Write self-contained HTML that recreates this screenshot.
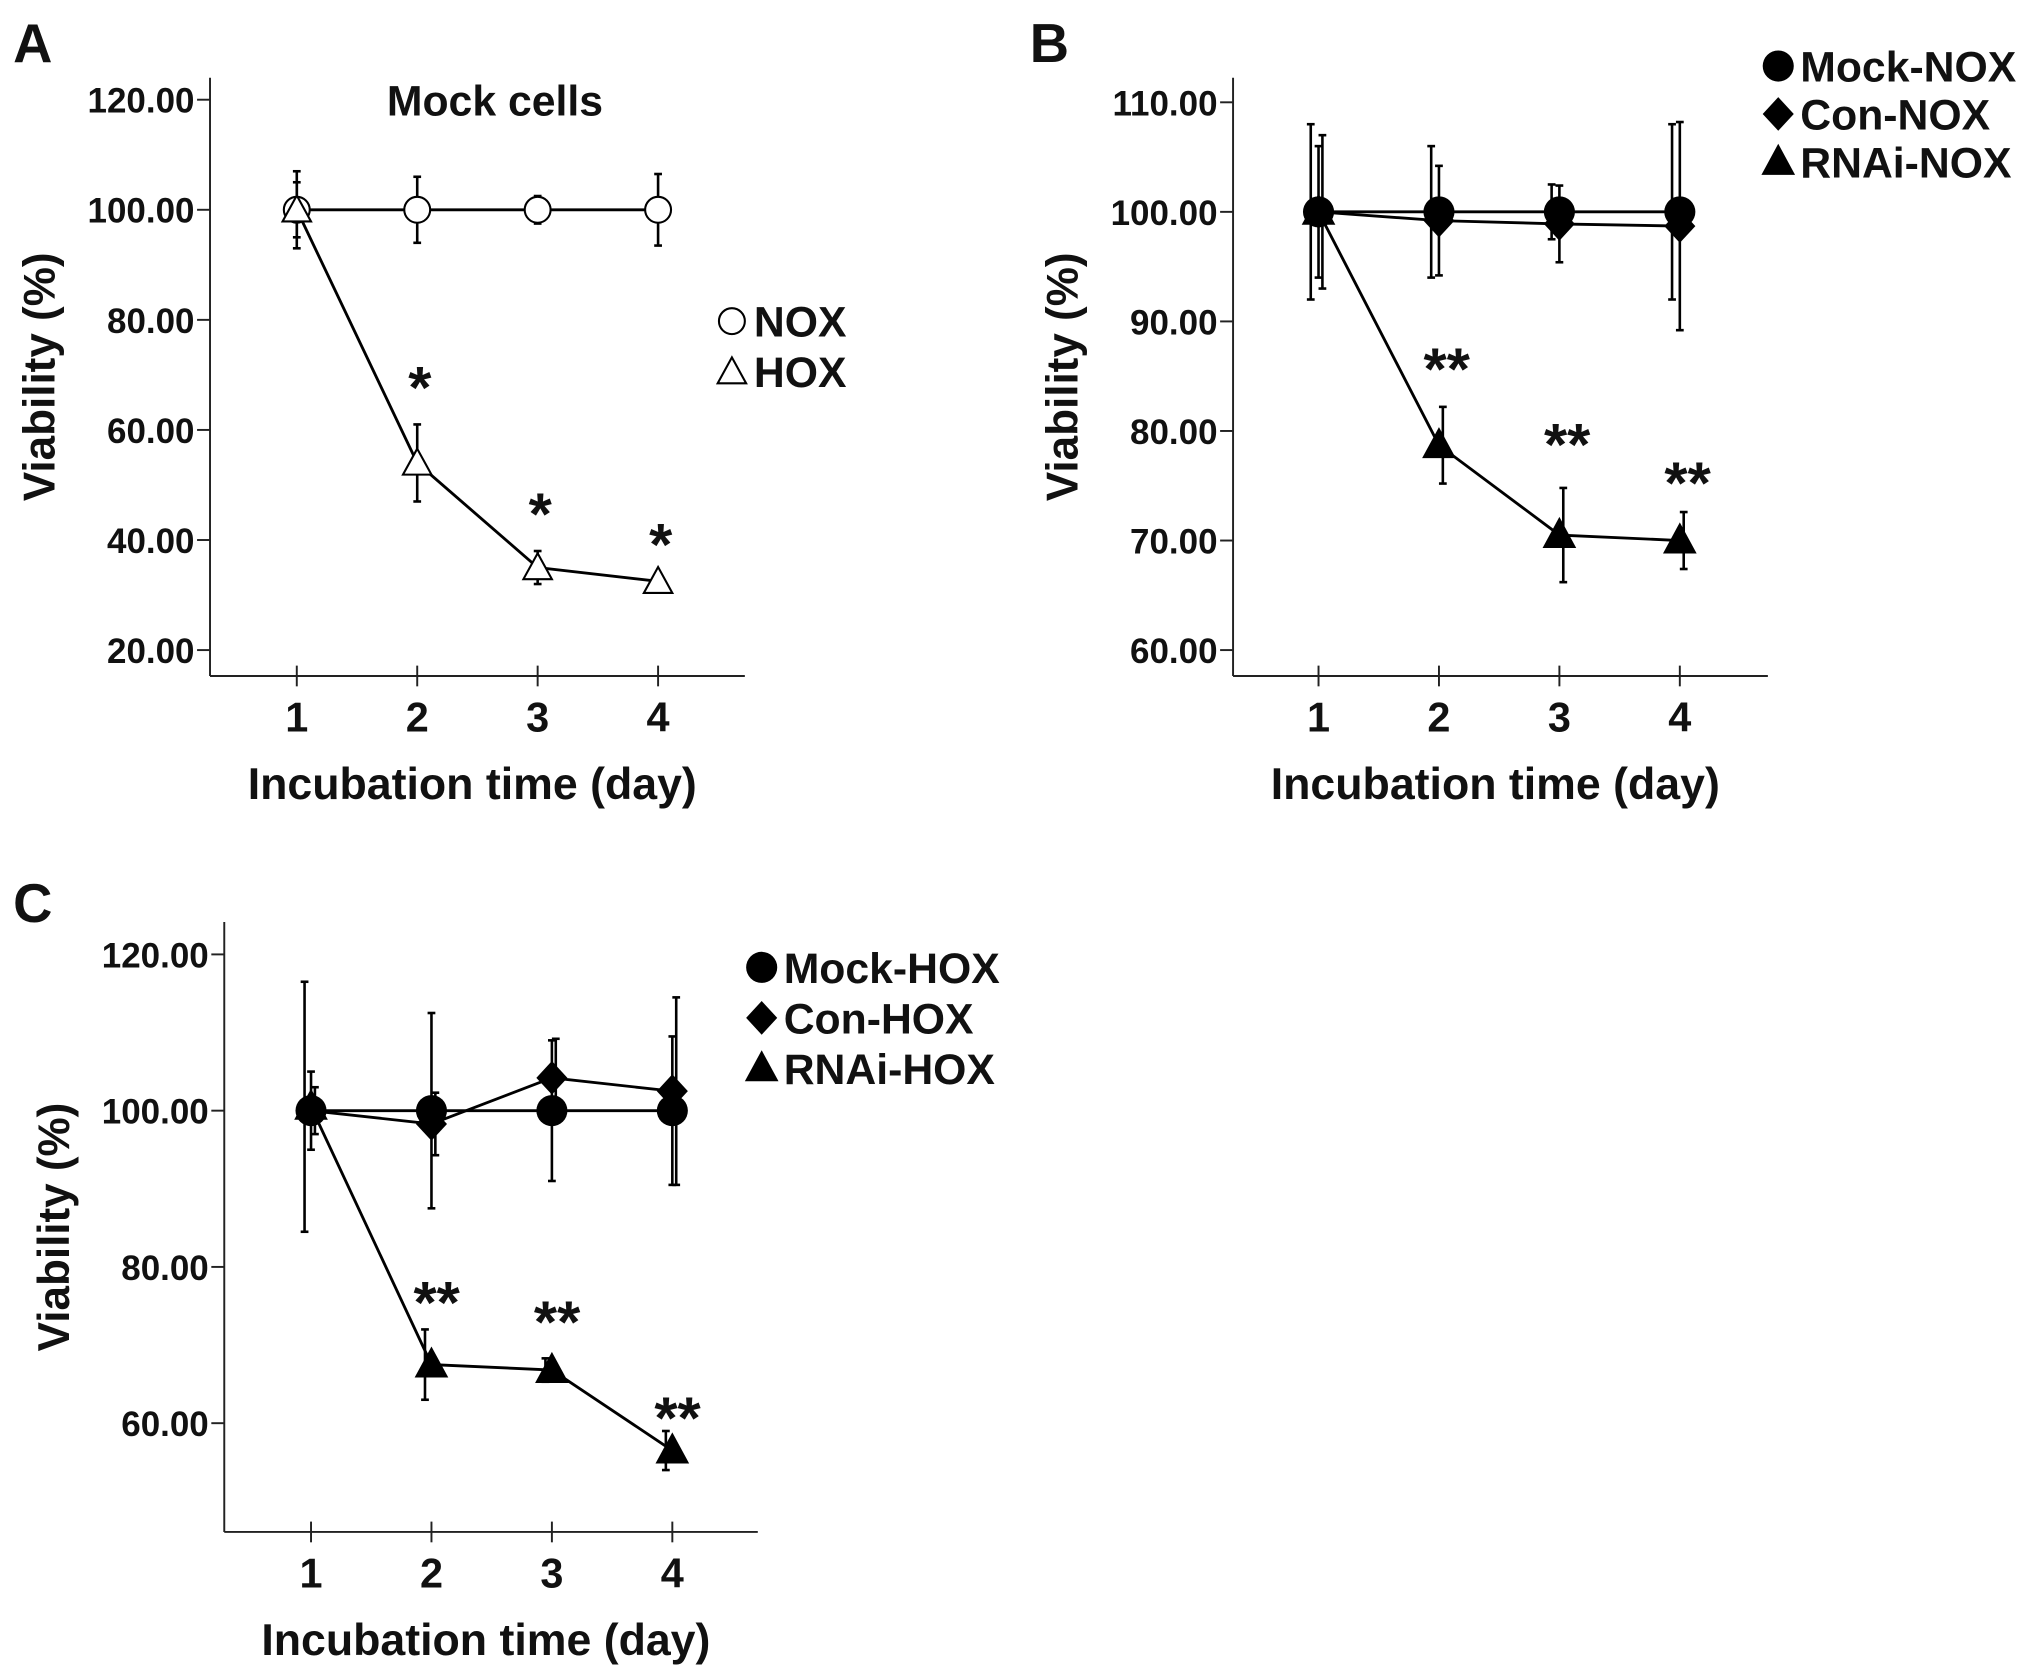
<!DOCTYPE html>
<html><head><meta charset="utf-8"><style>
html,body{margin:0;padding:0;background:#fff;}
svg{display:block;}
text{font-family:"Liberation Sans",Arial,sans-serif;font-weight:bold;fill:#111;}
</style></head><body>
<svg id="fig" width="2031" height="1677" viewBox="0 0 1568 1295" xmlns="http://www.w3.org/2000/svg">
<rect width="1568" height="1295" fill="#fff"/>
</svg>
<script>
const days = [1, 2, 3, 4];
// Panel A
const aNox = [100, 100, 100, 100];
const aNoxErr = [7, 6, 2.5, 6.5];
const aHox = [100, 54, 35, 32.5];
const aHoxErr = [5, 7, 3, 1];
const aStars = ['', '*', '*', '*'];
const aTicks = [20, 40, 60, 80, 100, 120];
// Panel B
const bMock = [100, 100, 100, 100];
const bMockErr = [8, 6, 2.5, 8];
const bCon = [100, 99.2, 98.9, 98.7];
const bConErr = [6, 5, 3.5, 9.5];
const bRnai = [100, 78.7, 70.5, 70];
const bRnaiErr = [7, 3.5, 4.3, 2.6];
const bStars = ['', '**', '**', '**'];
const bTicks = [60, 70, 80, 90, 100, 110];
// Panel C
const cMock = [100, 100, 100, 100];
const cMockErr = [5, 12.5, 9, 9.5];
const cCon = [100, 98.3, 104.2, 102.5];
const cConErr = [3, 4, 5, 12];
const cRnai = [100.5, 67.5, 66.8, 56.5];
const cRnaiErr = [16, 4.5, 1.5, 2.5];
const cStars = ['', '**', '**', '**'];
const cTicks = [60, 80, 100, 120];

const svg = document.getElementById('fig');
const NS = 'http://www.w3.org/2000/svg';
function el(tag, attrs, parent) {
  const e = document.createElementNS(NS, tag);
  for (const k in attrs) e.setAttribute(k, attrs[k]);
  (parent || svg).appendChild(e);
  return e;
}
function txt(s, x, y, size, anchor, parent, name) {
  const t = el('text', {x: x, y: y, 'font-size': size, 'text-anchor': anchor || 'middle'}, parent);
  t.textContent = s;
  
  
  return t;
}
function marker(kind, x, y, g, name) {
  let m;
  if (kind === 'circle') m = el('circle', {cx: x, cy: y, r: 12, fill: '#000'}, g);
  else if (kind === 'ocircle') m = el('circle', {cx: x, cy: y, r: 10, fill: '#fff', stroke: '#000', 'stroke-width': 1.6}, g);
  else if (kind === 'diamond') m = el('polygon', {points: `${x},${y-13} ${x+12},${y} ${x},${y+13} ${x-12},${y}`, fill: '#000'}, g);
  else if (kind === 'tri') m = el('polygon', {points: `${x},${y-14} ${x+13},${y+10} ${x-13},${y+10}`, fill: '#000'}, g);
  else m = el('polygon', {points: `${x},${y-11} ${x+11},${y+9} ${x-11},${y+9}`, fill: '#fff', stroke: '#000', 'stroke-width': 1.6}, g);
  
  
}
function panel(cfg) {
  const g = el('g', {});
  
  
  const yS = v => cfg.y0 + (v - cfg.v0) * (cfg.y1 - cfg.y0) / (cfg.v1 - cfg.v0);
  const xS = d => cfg.x1 + (d - 1) * cfg.dx;
  const ya = el('line', {x1: cfg.ax, y1: cfg.top, x2: cfg.ax, y2: cfg.base, stroke: '#222', 'stroke-width': 1.5}, g);
   
  const xa = el('line', {x1: cfg.ax, y1: cfg.base, x2: cfg.right, y2: cfg.base, stroke: '#222', 'stroke-width': 1.5}, g);
   
  cfg.ticks.forEach(v => {
    el('line', {x1: cfg.ax - 10, y1: yS(v), x2: cfg.ax, y2: yS(v), stroke: '#222', 'stroke-width': 1.5}, g);
    txt(v.toFixed(2), cfg.ax - 12, yS(v) + 10, 27, 'end', g, 'y-tick-label');
  });
  days.forEach(d => {
    el('line', {x1: xS(d), y1: cfg.base - 8, x2: xS(d), y2: cfg.base + 8, stroke: '#222', 'stroke-width': 1.5}, g);
    txt(String(d), xS(d), cfg.base + 43, 32, 'middle', g, 'x-tick-label');
  });
  txt('Incubation time (day)', (cfg.ax + cfg.right) / 2 - 4, cfg.base + 95, 34.5, 'middle', g, 'x-axis-title');
  const yt = txt('Viability (%)', 0, 0, 34, 'middle', g, 'y-axis-title');
  yt.setAttribute('transform', `translate(${cfg.ax - 120},${(cfg.top + cfg.base) / 2}) rotate(-90)`);
  cfg.series.forEach(s => {
    const sg = el('g', {}, g);
    
    
    s.vals.forEach((v, i) => {
      const x = xS(days[i]) + (s.off || 0);
      el('line', {x1: x, y1: yS(v + s.err[i]), x2: x, y2: yS(v - s.err[i]), stroke: '#000', 'stroke-width': 2}, sg);
      el('line', {x1: x - 3, y1: yS(v + s.err[i]), x2: x + 3, y2: yS(v + s.err[i]), stroke: '#000', 'stroke-width': 2}, sg);
      el('line', {x1: x - 3, y1: yS(v - s.err[i]), x2: x + 3, y2: yS(v - s.err[i]), stroke: '#000', 'stroke-width': 2}, sg);
    });
    const pts = s.vals.map((v, i) => `${xS(days[i])},${yS(v)}`).join(' ');
    el('polyline', {points: pts, fill: 'none', stroke: '#000', 'stroke-width': 2.2}, sg);
    s.vals.forEach((v, i) => marker(s.kind, xS(days[i]), yS(v), sg, 'point'));
  });
  cfg.stars.forEach((s, i) => {
    if (!s) return;
    txt(s, xS(days[i]) + cfg.starOff, yS(cfg.starVals[i]) + 22, 46, 'middle', g, 'significance-mark');
  });
  txt(cfg.letter, cfg.lx, cfg.ly, 42, 'start', g, 'panel-label');
  cfg.legend.forEach((l, i) => {
    const lg = el('g', {}, g);
    
    
    const yy = cfg.legY + i * cfg.legDy;
    marker(l.kind, cfg.legX, yy, lg, 'legend-marker');
    txt(l.label, cfg.legX + 17, yy + 12, 33, 'start', lg, 'legend-label');
  });
  return g;
}
panel({name: 'panel-a', letter: 'A', lx: 10, ly: 48, ax: 162, top: 60, base: 522, right: 575,
  v0: 20, y0: 502, v1: 120, y1: 77, x1: 229, dx: 93, ticks: aTicks,
  series: [{name: 'series-nox', vals: aNox, err: aNoxErr, kind: 'ocircle'},
           {name: 'series-hox', vals: aHox, err: aHoxErr, kind: 'otri'}],
  stars: aStars, starVals: [0, 69.2, 46.2, 40.6], starOff: 2,
  legend: [{kind: 'ocircle', label: 'NOX'}, {kind: 'otri', label: 'HOX'}], legX: 565, legY: 248, legDy: 39});
txt('Mock cells', 382, 89, 33, 'middle', svg, 'panel-a-title');
panel({name: 'panel-b', letter: 'B', lx: 795, ly: 48, ax: 952, top: 60, base: 522, right: 1365,
  v0: 60, y0: 502, v1: 110, y1: 79, x1: 1018, dx: 93, ticks: bTicks,
  series: [{name: 'series-mock-nox', vals: bMock, err: bMockErr, kind: 'circle', off: -6},
           {name: 'series-con-nox', vals: bCon, err: bConErr, kind: 'diamond', off: 0},
           {name: 'series-rnai-nox', vals: bRnai, err: bRnaiErr, kind: 'tri', off: 3}],
  stars: bStars, starVals: [0, 86.4, 79.5, 76], starOff: 6,
  legend: [{kind: 'circle', label: 'Mock-NOX'}, {kind: 'diamond', label: 'Con-NOX'}, {kind: 'tri', label: 'RNAi-NOX'}],
  legX: 1373, legY: 51, legDy: 37});
panel({name: 'panel-c', letter: 'C', lx: 10, ly: 712, ax: 173, top: 712, base: 1183, right: 585,
  v0: 60, y0: 1099, v1: 120, y1: 737, x1: 240, dx: 93, ticks: cTicks,
  series: [{name: 'series-mock-hox', vals: cMock, err: cMockErr, kind: 'circle', off: 0},
           {name: 'series-con-hox', vals: cCon, err: cConErr, kind: 'diamond', off: 3},
           {name: 'series-rnai-hox', vals: cRnai, err: cRnaiErr, kind: 'tri', off: -5}],
  stars: cStars, starVals: [0, 76.5, 74, 61.7], starOff: 4,
  legend: [{kind: 'circle', label: 'Mock-HOX'}, {kind: 'diamond', label: 'Con-HOX'}, {kind: 'tri', label: 'RNAi-HOX'}],
  legX: 588, legY: 747, legDy: 39});
</script>
</body></html>
